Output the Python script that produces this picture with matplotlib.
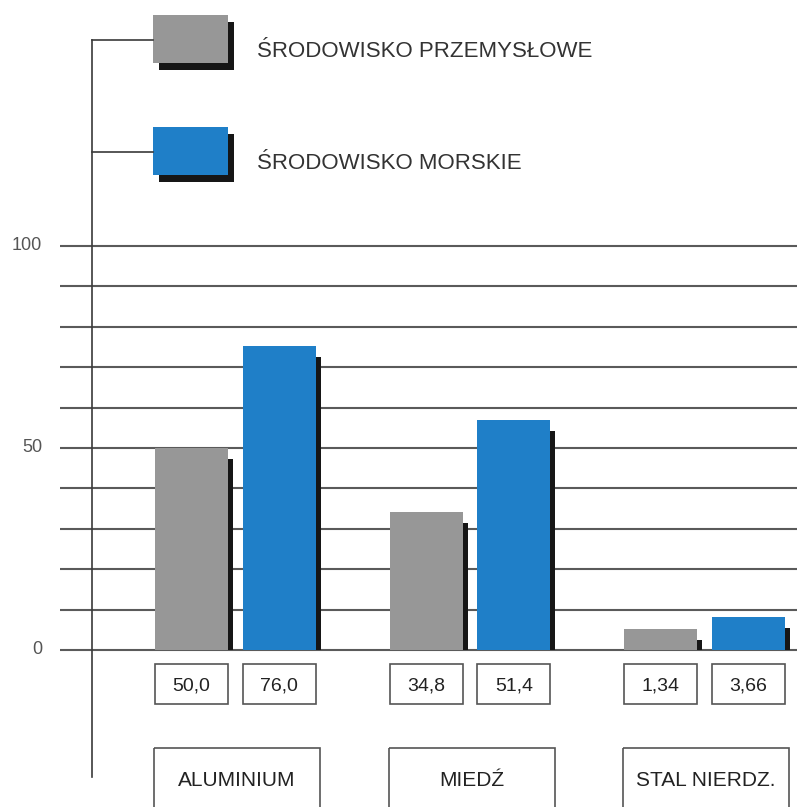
import numpy as np
import matplotlib
matplotlib.use('Agg')
import matplotlib.pyplot as plt
import matplotlib.transforms as mtransforms
from matplotlib.patches import Rectangle
from matplotlib import font_manager

# dane
kategorie = ['ALUMINIUM', 'MIEDŹ', 'STAL NIERDZ.']
serie = ['ŚRODOWISKO PRZEMYSŁOWE', 'ŚRODOWISKO MORSKIE']
przemyslowe = [50.0, 34.2, 5.2]      # wysokości słupków (szare)
morskie = [75.2, 56.9, 8.2]          # wysokości słupków (niebieskie)
opisy_przem = ['50,0', '34,8', '1,34']
opisy_morskie = ['76,0', '51,4', '3,66']
yticks = [0, 50, 100]
siatka = list(range(0, 101, 10))

SZARY = '#979797'
NIEBIESKI = '#1f7fc8'
CIEN = '#161616'
LINIA = '#5a5a5a'

plt.rcParams['font.family'] = ['Liberation Sans', 'DejaVu Sans']

# czcionka wąska jeśli jest, inaczej zwykła w mniejszym rozmiarze
nazwy = {f.name for f in font_manager.fontManager.ttflist}
if 'Liberation Sans Narrow' in nazwy:
    WASKA = ['Liberation Sans Narrow', 'DejaVu Sans']
    rozm_opis, rozm_kat = 16, 18
elif 'Arial Narrow' in nazwy:
    WASKA = ['Arial Narrow', 'DejaVu Sans']
    rozm_opis, rozm_kat = 16, 18
else:
    WASKA = ['Liberation Sans', 'DejaVu Sans']
    rozm_opis, rozm_kat = 14, 15

W, H = 797, 807
fig = plt.figure(figsize=(W / 100, H / 100), dpi=100)
ax = fig.add_axes([0, 0, 1, 1])
ax.axis('off')

# skala: piksel grupy 0 i odstęp grup, piksel zera i piksele na jednostkę
x0, sx = 235.5, 234.5
y0, sy = 650, 4.04
ax.set_xlim(-x0 / sx, (W - x0) / sx)
ax.set_ylim(-(H - y0) / sy, y0 / sy)

pix = mtransforms.Affine2D().scale(1 / W, -1 / H).translate(0, 1) + fig.transFigure
x_dane_y_pix = mtransforms.blended_transform_factory(ax.transData, pix)
x_pix_y_dane = mtransforms.blended_transform_factory(pix, ax.transData)

# linie siatki i oś
ax.hlines(siatka, (60 - x0) / sx, (W - x0) / sx, color=LINIA, lw=1.5, zorder=1)
ax.plot([92, 92], [40, 777], color='#3a3a3a', lw=1.2, transform=pix, zorder=1)
for t in yticks:
    ax.text(42, t, str(t), transform=x_pix_y_dane, ha='right', va='center',
            fontsize=13, color='#555555')

# słupki z cieniem
x = np.arange(len(kategorie))
szer = 0.311
off = 0.187
dx, dy = 5 / sx, 11 / sy
for vals, opisy, znak, kolor in [(przemyslowe, opisy_przem, -1, SZARY),
                                 (morskie, opisy_morskie, 1, NIEBIESKI)]:
    xs = x + znak * off
    ax.bar(xs + dx, np.array(vals) - dy, szer, color=CIEN, lw=0, zorder=2)
    ax.bar(xs, vals, szer, color=kolor, lw=0, zorder=3)
    for xc, opis in zip(xs, opisy):
        ax.add_patch(Rectangle((xc - szer / 2, 664), szer, 40, transform=x_dane_y_pix,
                               fill=False, ec='#555555', lw=1.2))
        ax.text(xc, 686, opis, transform=x_dane_y_pix, ha='center', va='center',
                fontsize=rozm_opis, family=WASKA, color='#222222')

# ramki z nazwami kategorii
for xi, nazwa in zip(x, kategorie):
    xc = xi + 1.5 / sx
    ax.add_patch(Rectangle((xc - 83 / sx, 748), 166 / sx, 80, transform=x_dane_y_pix,
                           fill=False, ec='#555555', lw=1.2, clip_on=False))
    ax.text(xc, 781, nazwa, transform=x_dane_y_pix, ha='center', va='center',
            fontsize=rozm_kat, family=WASKA, color='#222222')

# legenda
for i, (nazwa, kolor) in enumerate(zip(serie, [SZARY, NIEBIESKI])):
    gora = [15, 127][i]
    ax.plot([92, 153], [gora + 25, gora + 25], color='#3a3a3a', lw=1.2, transform=pix)
    ax.add_patch(Rectangle((159, gora + 7), 75, 48, transform=pix, color=CIEN, lw=0))
    ax.add_patch(Rectangle((153, gora), 75, 48, transform=pix, color=kolor, lw=0))
    ax.text(257, gora + 42, nazwa, transform=pix, ha='left', va='baseline',
            fontsize=16, color='#333333')

fig.savefig('out.png', dpi=100)
